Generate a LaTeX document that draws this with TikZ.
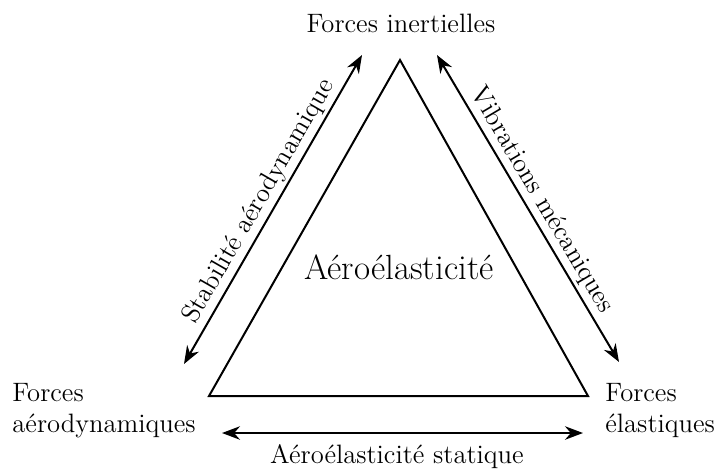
\documentclass[tikz,border=0pt]{standalone}
\usetikzlibrary{arrows.meta}
\begin{document}
\begin{tikzpicture}[x=0.5pt, y=-0.5pt,
  lab/.style={font=\fontsize{13.3}{15.5}\selectfont, align=left, inner sep=0pt},
  link/.style={{Stealth[scale=1.2]}-{Stealth[scale=1.2]}, line width=1pt}
]
\useasboundingbox (0,0) rectangle (717,468);
% triangle
\coordinate (top) at (400,60);
\coordinate (bl) at (209,396);
\coordinate (br) at (588,396);
\draw[line width=1pt] (top) -- (bl) -- (br) -- cycle;
\node[font=\fontsize{17.5}{20}\selectfont, anchor=base, inner sep=0pt] (mid) at (399,279) {Aéroélasticité};
% corners
\node[lab, anchor=base] (inert) at (401,32) {Forces inertielles};
\node[lab, anchor=west] (aero) at (12,411) {Forces\\aérodynamiques};
\node[lab, anchor=west] (elast) at (605,411) {Forces\\élastiques};
% links
\coordinate (l1) at (184,364);
\coordinate (l2) at (362,55);
\coordinate (r1) at (437,55);
\coordinate (r2) at (619,362);
\coordinate (b1) at (222,433);
\coordinate (b2) at (583,433);
\draw[link] (l1) -- node[lab, sloped, above=1.5pt] (stab) {Stabilité aérodynamique} (l2);
\draw[link] (r1) -- node[lab, sloped, above=1.5pt] (vib) {Vibrations mécaniques} (r2);
\draw[link] (b1) -- (b2);
\node[lab, anchor=base] (stat) at (397,463) {Aéroélasticité statique};
\end{tikzpicture}
\end{document}
